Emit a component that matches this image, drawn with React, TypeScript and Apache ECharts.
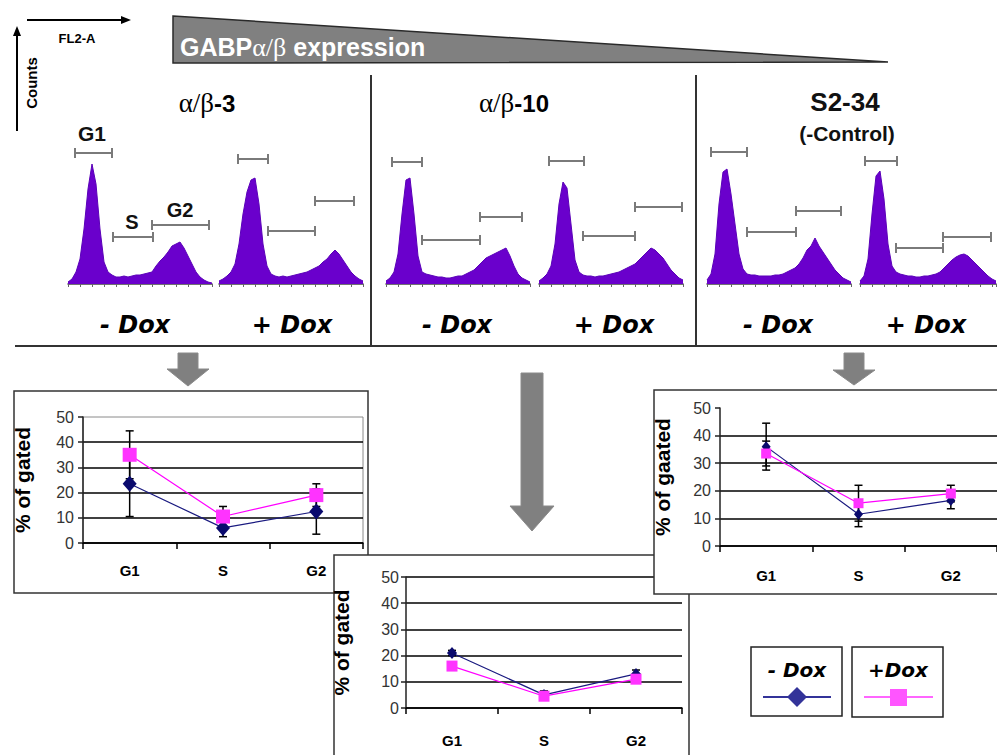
import React, { useEffect, useRef } from 'react';
import * as echarts from 'echarts';

// ---------- data ----------
const phases = ['G1', 'S', 'G2'];

// % of gated (mean) and error (half-range) per clone
const ab3Minus = [23.5, 6, 12.5];
const ab3MinusErr = [13, 3.5, 9];
const ab3Plus = [35, 10.5, 19];
const ab3PlusErr = [9.5, 4, 4.5];

const ab10Minus = [21, 5, 13];
const ab10MinusErr = [1, 1.5, 1.5];
const ab10Plus = [16, 4.5, 11];
const ab10PlusErr = [1.5, 1.5, 1.5];

const s234Minus = [36, 11.5, 16.5];
const s234MinusErr = [8.5, 4.5, 3];
const s234Plus = [33.5, 15.5, 19];
const s234PlusErr = [4.5, 6.5, 3];

// FL2-A histograms (counts per bin)
const histAB3Minus = [2, 5, 12, 25, 55, 95, 120, 100, 55, 22, 12, 9, 7, 7, 8, 7, 8, 9, 9, 10, 11, 12, 18, 23, 27, 32, 38, 40, 42, 36, 28, 20, 12, 7, 4, 2, 1];
const histAB3Plus = [3, 5, 8, 12, 20, 40, 70, 92, 104, 106, 80, 40, 18, 10, 8, 7, 8, 7, 8, 9, 10, 11, 12, 14, 16, 18, 22, 25, 30, 34, 30, 24, 18, 12, 8, 5, 3];
const histAB10Minus = [3, 6, 12, 30, 70, 104, 106, 70, 28, 12, 10, 9, 8, 7, 7, 6, 6, 7, 8, 8, 10, 12, 14, 18, 22, 26, 28, 30, 32, 34, 36, 28, 18, 10, 6, 4, 2];
const histAB10Plus = [3, 6, 10, 18, 40, 80, 102, 96, 60, 24, 12, 9, 8, 8, 7, 8, 8, 9, 10, 11, 12, 14, 16, 18, 20, 24, 28, 32, 36, 34, 30, 26, 20, 14, 10, 6, 4];
const histS234Minus = [4, 10, 30, 80, 112, 115, 90, 60, 30, 15, 10, 9, 9, 8, 8, 8, 8, 9, 9, 10, 12, 14, 16, 20, 26, 34, 38, 46, 38, 32, 26, 20, 14, 10, 6, 4, 2];
const histS234Plus = [3, 8, 25, 70, 108, 113, 85, 40, 18, 12, 10, 9, 8, 8, 7, 7, 8, 8, 9, 10, 12, 16, 20, 24, 27, 29, 30, 28, 24, 20, 16, 12, 8, 5, 3];

// gates: [start bin, end bin, height]
const gatesAB3Minus = [[1.75, 11, 131], [11.25, 21.25, 47], [21, 35.25, 59]];
const gatesAB3Plus = [[4.75, 12.25, 125], [12.25, 24, 53], [24, 33.75, 83]];
const gatesAB10Minus = [[1.5, 9, 122], [9, 23.5, 44], [23.5, 34, 67]];
const gatesAB10Plus = [[2.5, 11.25, 123], [11, 24, 48], [24, 35.75, 77]];
const gatesS234Minus = [[1, 10, 132], [10, 22.25, 52], [22.25, 33.5, 73]];
const gatesS234Plus = [[1.25, 9.25, 123], [9, 20.75, 36], [20.75, 32.75, 47]];

const SANS = 'Liberation Sans, Arial, sans-serif';
const SERIF = 'Liberation Serif, Times New Roman, serif';
const VERD = 'DejaVu Sans, Verdana, sans-serif';

function errRender(params: any, api: any) {
  const x = api.value(0);
  const lo = api.value(1);
  const hi = api.value(2);
  const pLo = api.coord([x, lo]);
  const pHi = api.coord([x, hi]);
  const w = 4;
  const style = { stroke: '#000', lineWidth: 1.5 };
  return {
    type: 'group',
    children: [
      { type: 'line', shape: { x1: pLo[0], y1: pLo[1], x2: pHi[0], y2: pHi[1] }, style },
      { type: 'line', shape: { x1: pLo[0] - w, y1: pLo[1], x2: pLo[0] + w, y2: pLo[1] }, style },
      { type: 'line', shape: { x1: pHi[0] - w, y1: pHi[1], x2: pHi[0] + w, y2: pHi[1] }, style },
    ],
  };
}

function gateRender(params: any, api: any) {
  const p1 = api.coord([api.value(0), api.value(2)]);
  const p2 = api.coord([api.value(1), api.value(2)]);
  const c = 5;
  const style = { stroke: '#7a7a7a', lineWidth: 2 };
  return {
    type: 'group',
    children: [
      { type: 'line', shape: { x1: p1[0], y1: p1[1], x2: p2[0], y2: p2[1] }, style },
      { type: 'line', shape: { x1: p1[0], y1: p1[1] - c, x2: p1[0], y2: p1[1] + c }, style },
      { type: 'line', shape: { x1: p2[0], y1: p2[1] - c, x2: p2[0], y2: p2[1] + c }, style },
    ],
  };
}

export default function App() {
  const ref = useRef<HTMLDivElement>(null);

  useEffect(() => {
    document.body.style.margin = '0';
    if (!ref.current) return;
    const chart = echarts.init(ref.current, undefined, { renderer: 'svg' });

    const hists = [histAB3Minus, histAB3Plus, histAB10Minus, histAB10Plus, histS234Minus, histS234Plus];
    const gates = [gatesAB3Minus, gatesAB3Plus, gatesAB10Minus, gatesAB10Plus, gatesS234Minus, gatesS234Plus];
    const histLeft = [68, 219, 386, 539, 707, 860];

    const grid: any[] = [];
    const xAxis: any[] = [];
    const yAxis: any[] = [];
    const series: any[] = [];

    hists.forEach((h, i) => {
      const n = h.length - 1;
      grid.push({ left: histLeft[i], top: 144, width: n * 4, height: 140 });
      xAxis.push({
        type: 'value', gridIndex: i, min: 0, max: n, interval: 3,
        axisLine: { show: true, lineStyle: { color: '#444', width: 1.5 } },
        axisTick: { show: true, length: 3, lineStyle: { color: '#666' } },
        axisLabel: { show: false }, splitLine: { show: false },
      });
      yAxis.push({ type: 'value', gridIndex: i, min: 0, max: 140, show: false, splitLine: { show: false } });
      series.push({
        type: 'line', xAxisIndex: i, yAxisIndex: i, data: h.map((v, k) => [k, v]),
        showSymbol: false, lineStyle: { color: '#5a00b8', width: 1 },
        areaStyle: { color: '#6a00cc', opacity: 1 }, z: 2,
      });
      series.push({
        type: 'custom', xAxisIndex: i, yAxisIndex: i, data: gates[i],
        encode: { x: [0, 1], y: 2 }, renderItem: gateRender, z: 3,
      });
    });

    const charts = [
      { minus: ab3Minus, minusErr: ab3MinusErr, plus: ab3Plus, plusErr: ab3PlusErr,
        grid: { left: 83, top: 417, width: 280, height: 126 }, name: '% of gated', nameGap: 50,
        labelMargin: 20, z: 4, border: true, showMax: false, dSize: [14, 16], sSize: 14, lblMargin: 9 },
      { minus: ab10Minus, minusErr: ab10MinusErr, plus: ab10Plus, plusErr: ab10PlusErr,
        grid: { left: 406, top: 577, width: 276, height: 131 }, name: '% of gated', nameGap: 54,
        labelMargin: 25, z: 12, border: false, showMax: true, dSize: [10, 12], sSize: 11, lblMargin: 7 },
      { minus: s234Minus, minusErr: s234MinusErr, plus: s234Plus, plusErr: s234PlusErr,
        grid: { left: 720, top: 408, width: 285, height: 138 }, name: '% of gaated', nameGap: 47,
        labelMargin: 22, z: 22, border: false, showMax: false, dSize: [9, 11], sSize: 10, lblMargin: 9 },
    ];

    charts.forEach((c, j) => {
      const gi = 6 + j;
      grid.push({ ...c.grid, show: c.border, borderColor: '#8a8a8a', borderWidth: 1, backgroundColor: 'transparent', z: c.z });
      xAxis.push({
        type: 'category', gridIndex: gi, data: phases, boundaryGap: true, z: c.z,
        axisLine: { show: true, lineStyle: { color: '#000', width: 1.5 } },
        axisTick: { show: true, length: 6, interval: 0, lineStyle: { color: '#000', width: 1.5 } },
        axisLabel: { margin: c.labelMargin, fontFamily: SANS, fontWeight: 'bold', fontSize: 15, color: '#000', interval: 0 },
        splitLine: { show: false },
      });
      yAxis.push({
        type: 'value', gridIndex: gi, min: 0, max: 50, interval: 10, z: c.z,
        name: c.name, nameLocation: 'middle', nameGap: c.nameGap, nameRotate: 90,
        nameTextStyle: { fontFamily: SANS, fontWeight: 'bold', fontSize: 21, color: '#000' },
        axisLine: { show: true, lineStyle: { color: '#222', width: 1.5 } },
        axisTick: { show: true, length: 5, lineStyle: { color: '#222', width: 1.5 } },
        axisLabel: { margin: c.lblMargin, fontFamily: SANS, fontSize: 16, color: '#333' },
        splitLine: { show: true, showMaxLine: c.showMax, lineStyle: { color: '#000', width: 1.5 } },
      });
      series.push({
        type: 'custom', xAxisIndex: gi, yAxisIndex: gi, renderItem: errRender, z: c.z + 1,
        encode: { x: 0, y: [1, 2] },
        data: c.minus.map((v, k) => [k, v - c.minusErr[k], v + c.minusErr[k]]),
      });
      series.push({
        type: 'custom', xAxisIndex: gi, yAxisIndex: gi, renderItem: errRender, z: c.z + 1,
        encode: { x: 0, y: [1, 2] },
        data: c.plus.map((v, k) => [k, v - c.plusErr[k], v + c.plusErr[k]]),
      });
      series.push({
        name: '- Dox', type: 'line', xAxisIndex: gi, yAxisIndex: gi, data: c.minus, z: c.z + 2,
        symbol: 'diamond', symbolSize: c.dSize, showAllSymbol: true,
        lineStyle: { color: '#1a1a80', width: 1.2 }, itemStyle: { color: '#0a0a6e' },
      });
      series.push({
        name: '+Dox', type: 'line', xAxisIndex: gi, yAxisIndex: gi, data: c.plus, z: c.z + 3,
        symbol: 'rect', symbolSize: c.sSize, showAllSymbol: true,
        lineStyle: { color: '#ff00ff', width: 1.2 }, itemStyle: { color: '#ff33ff' },
      });
    });

    const graphic: any[] = [
      // axis key arrows
      { type: 'line', shape: { x1: 17, y1: 131, x2: 17, y2: 33 }, style: { stroke: '#000', lineWidth: 2 } },
      { type: 'polygon', shape: { points: [[17, 26], [13, 36], [21, 36]] }, style: { fill: '#000' } },
      { type: 'line', shape: { x1: 27, y1: 20, x2: 123, y2: 20 }, style: { stroke: '#000', lineWidth: 2 } },
      { type: 'polygon', shape: { points: [[131, 20], [121, 16], [121, 24]] }, style: { fill: '#000' } },
      { type: 'text', style: { text: 'FL2-A', x: 77, y: 38, align: 'center', verticalAlign: 'middle', font: `bold 13px ${SANS}`, fill: '#000' } },
      { type: 'text', rotation: Math.PI / 2, x: 31, y: 83, style: { text: 'Counts', x: 0, y: 0, align: 'center', verticalAlign: 'middle', font: `bold 15px ${SANS}`, fill: '#000' } },
      // expression wedge
      { type: 'polygon', shape: { points: [[173, 16], [888, 62], [173, 63]] }, style: { fill: '#808080', stroke: '#2a2a2a', lineWidth: 1.5 } },
      { type: 'text', style: {
        text: '{b|GABP}{s|α/β}{b| expression}', x: 180, y: 47, align: 'left', verticalAlign: 'middle', fill: '#fff',
        rich: { b: { fontFamily: SANS, fontWeight: 'bold', fontSize: 25, fill: '#fff', color: '#fff' }, s: { fontFamily: SERIF, fontSize: 26, fill: '#fff', color: '#fff' } },
      } },
      // dividers
      { type: 'line', shape: { x1: 371, y1: 75, x2: 371, y2: 346 }, style: { stroke: '#333', lineWidth: 2 } },
      { type: 'line', shape: { x1: 696, y1: 75, x2: 696, y2: 346 }, style: { stroke: '#333', lineWidth: 2 } },
      { type: 'line', shape: { x1: 15, y1: 346, x2: 997, y2: 346 }, style: { stroke: '#333', lineWidth: 2 } },
      // titles
      { type: 'text', style: { text: '{a|α/β}{b|-3}', x: 207, y: 103, align: 'center', verticalAlign: 'middle',
        rich: { a: { fontFamily: SERIF, fontSize: 27, color: '#111' }, b: { fontFamily: SANS, fontWeight: 'bold', fontSize: 24, color: '#111' } } } },
      { type: 'text', style: { text: '{a|α/β}{b|-10}', x: 514, y: 103, align: 'center', verticalAlign: 'middle',
        rich: { a: { fontFamily: SERIF, fontSize: 27, color: '#111' }, b: { fontFamily: SANS, fontWeight: 'bold', fontSize: 24, color: '#111' } } } },
      { type: 'text', style: { text: 'S2-34', x: 845, y: 102, align: 'center', verticalAlign: 'middle', font: `bold 26px ${SANS}`, fill: '#111' } },
      { type: 'text', style: { text: '(-Control)', x: 847, y: 133, align: 'center', verticalAlign: 'middle', font: `bold 21px ${SANS}`, fill: '#111' } },
      // phase labels
      { type: 'text', style: { text: 'G1', x: 92, y: 133, align: 'center', verticalAlign: 'middle', font: `bold 21px ${SANS}`, fill: '#111' } },
      { type: 'text', style: { text: 'S', x: 132, y: 222, align: 'center', verticalAlign: 'middle', font: `bold 20px ${SANS}`, fill: '#111' } },
      { type: 'text', style: { text: 'G2', x: 180, y: 210, align: 'center', verticalAlign: 'middle', font: `bold 20px ${SANS}`, fill: '#111' } },
    ];

    const doxPos = [[135, '- Dox'], [292, '+ Dox'], [457, '- Dox'], [614, '+ Dox'], [778, '- Dox'], [926, '+ Dox']];
    doxPos.forEach(([x, t]) => {
      graphic.push({ type: 'text', style: { text: t, x, y: 325, align: 'center', verticalAlign: 'middle', font: `italic bold 24px ${VERD}`, fill: '#000' } });
    });

    // down arrows
    const arrow = (cx: number, top: number, headTop: number, tip: number, sw: number, hw: number) => ({
      type: 'polygon',
      shape: { points: [[cx - sw, top], [cx + sw, top], [cx + sw, headTop], [cx + hw, headTop], [cx, tip], [cx - hw, headTop], [cx - sw, headTop]] },
      style: { fill: '#808080', stroke: '#8a8a8a', lineWidth: 1 },
    });
    graphic.push(arrow(188, 353, 369, 386, 10, 21));
    graphic.push(arrow(854, 353, 370, 385, 10, 21));
    graphic.push(arrow(532, 373, 506, 531, 11, 22));

    // chart boxes (layered)
    graphic.push({ type: 'rect', z: 1, shape: { x: 14, y: 391, width: 354, height: 202 }, style: { fill: '#fff', stroke: '#333', lineWidth: 1.5 } });
    graphic.push({ type: 'rect', z: 10, shape: { x: 334, y: 555, width: 355, height: 215 }, style: { fill: '#fff', stroke: '#333', lineWidth: 1.5 } });
    graphic.push({ type: 'rect', z: 20, shape: { x: 654, y: 390, width: 360, height: 204 }, style: { fill: '#fff', stroke: '#333', lineWidth: 1.5 } });

    // legend keys
    graphic.push({ type: 'rect', z: 30, shape: { x: 751, y: 647, width: 91, height: 69 }, style: { fill: '#fff', stroke: '#222', lineWidth: 1.5 } });
    graphic.push({ type: 'rect', z: 30, shape: { x: 852, y: 647, width: 91, height: 70 }, style: { fill: '#fff', stroke: '#222', lineWidth: 1.5 } });
    graphic.push({ type: 'text', z: 31, style: { text: '- Dox', x: 797, y: 670, align: 'center', verticalAlign: 'middle', font: `italic bold 20px ${VERD}`, fill: '#000' } });
    graphic.push({ type: 'text', z: 31, style: { text: '+Dox', x: 898, y: 670, align: 'center', verticalAlign: 'middle', font: `italic bold 20px ${VERD}`, fill: '#000' } });
    graphic.push({ type: 'line', z: 31, shape: { x1: 763, y1: 697, x2: 831, y2: 697 }, style: { stroke: '#333399', lineWidth: 2 } });
    graphic.push({ type: 'polygon', z: 32, shape: { points: [[797, 687], [807, 697], [797, 707], [787, 697]] }, style: { fill: '#333399' } });
    graphic.push({ type: 'line', z: 31, shape: { x1: 864, y1: 697, x2: 933, y2: 697 }, style: { stroke: '#ff66ff', lineWidth: 2 } });
    graphic.push({ type: 'rect', z: 32, shape: { x: 890, y: 689, width: 17, height: 17 }, style: { fill: '#ff55ff' } });

    chart.setOption({
      animation: false,
      backgroundColor: '#fff',
      grid, xAxis, yAxis, series, graphic,
    });
    return () => chart.dispose();
  }, []);

  return <div ref={ref} style={{ width: 997, height: 755 }} />;
}
